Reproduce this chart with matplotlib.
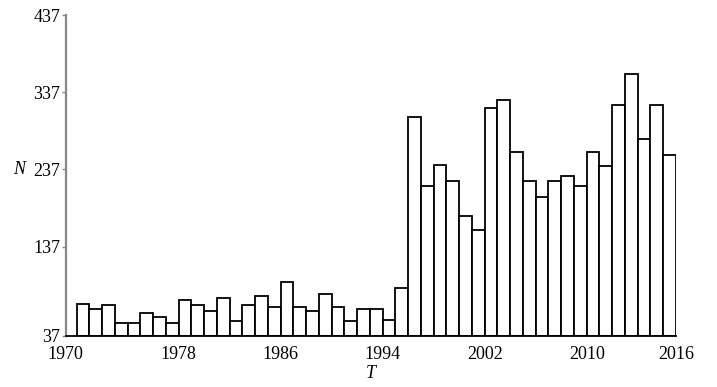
import numpy as np
import matplotlib
matplotlib.use("Agg")
import matplotlib.pyplot as plt

plt.rcParams['font.family'] = ['Liberation Serif', 'DejaVu Serif']

# metai ir kiekiai (nuskaityta is paveikslo)
years = list(range(1970, 2017))
counts = [62, 56, 61, 38, 38, 51, 46, 38, 68, 61,
          54, 70, 40, 61, 73, 59, 91, 59, 53, 76,
          59, 40, 56, 56, 42, 84, 305, 216, 243, 222,
          177, 159, 317, 327, 260, 222, 201, 222, 228, 216,
          260, 241, 320, 361, 276, 321, 256]

y_ticks = [37, 137, 237, 337, 437]
x_labels = ['1970', '1978', '1986', '1994', '2002', '2010', '2016']

y_floor = 21.2
x_left = 1969.14
x_right = 2017

fig = plt.figure(figsize=(7.17, 3.87), dpi=100)
ax = fig.add_axes([0.0916, 0.1318, 0.8512, 0.8294])

heights = np.array(counts) - y_floor
ax.bar(years, heights, bottom=y_floor, width=1.0, align='edge',
       facecolor='white', edgecolor='black', linewidth=1.3, zorder=2)

ax.set_xlim(x_left, x_right)
ax.set_ylim(y_floor, 437)

# apatine zyme "37" stovi prie asies pagrindo
ytick_pos = [y_floor] + y_ticks[1:]
ax.set_yticks(ytick_pos)
ax.set_yticklabels([str(v) for v in y_ticks])
ax.set_xticks([x_left, 1978, 1986, 1994, 2002, 2010, x_right])
ax.set_xticklabels(x_labels)

ax.tick_params(axis='y', direction='out', length=3, width=1, color='#888888',
               pad=1, labelsize=13)
ax.tick_params(axis='x', length=0, pad=7, labelsize=13)

for s in ['top', 'right']:
    ax.spines[s].set_visible(False)
ax.spines['left'].set_color('#888888')
ax.spines['left'].set_linewidth(1.6)
ax.spines['bottom'].set_color('black')
ax.spines['bottom'].set_linewidth(1.3)

ax.set_xlabel('T', fontsize=13, style='italic', labelpad=2)
ax.text(-0.077, (237 - y_floor) / (437 - y_floor), 'N', transform=ax.transAxes,
        fontsize=13, style='italic', ha='center', va='center')

fig.savefig('out.png', dpi=100)
